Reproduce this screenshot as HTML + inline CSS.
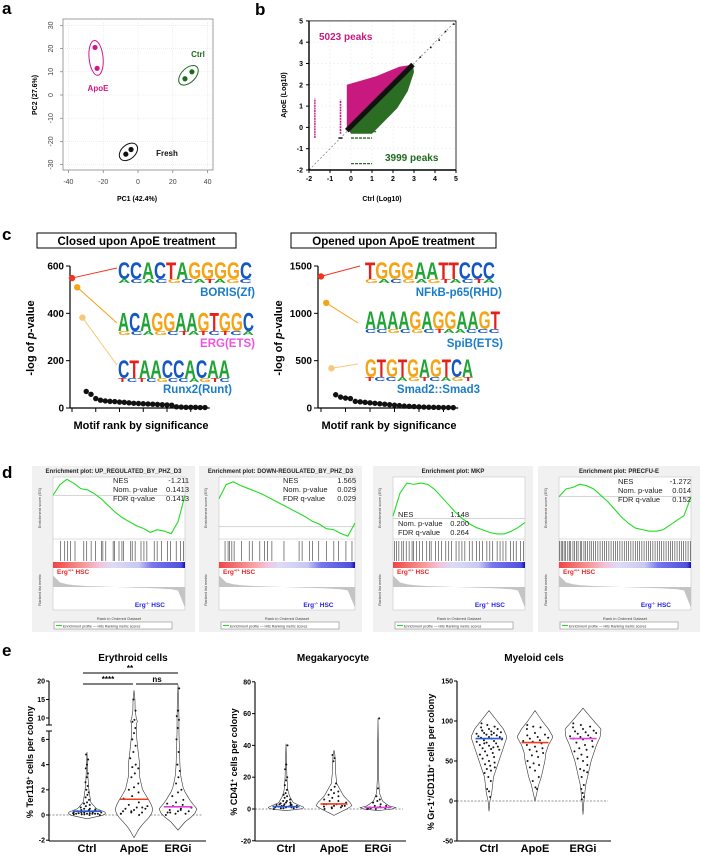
<!DOCTYPE html>
<html><head><meta charset="utf-8">
<style>
html,body{margin:0;padding:0;background:#fff;}
svg{display:block;font-family:"Liberation Sans",sans-serif;}
</style></head>
<body>
<svg id="fig" width="701" height="857" viewBox="0 0 701 857" xmlns="http://www.w3.org/2000/svg"></svg>
<script>
// ---------- DATA ----------
// panel a
const pcaGroups=['ApoE','Ctrl','Fresh'];
const pcaPC1=[[-24.7,-23.5],[27,31],[-7,-4]];
const pcaPC2=[[20.5,11.5],[7,10],[-25.5,-23.5]];
const pcaTicksX=[-40,-20,0,20,40];
const pcaTicksY=[-30,-20,-10,0,10,20,30];
// panel b
const peakCounts=[5023,3999];
const bTicks=[-2,-1,0,1,2,3,4,5];
const openedCloudX=[-0.2,0.5,1.2,2.3,2.95,2.95,-0.2];
const openedCloudY=[2.0,2.2,2.4,2.85,2.95,2.95,-0.1];
const closedCloudX=[0,1.0,1.5,2.2,2.7,3.0,2.95,-0.1];
const closedCloudY=[-0.3,-0.3,0.2,0.9,1.7,2.6,2.95,-0.15];
const sparseX=[3.3,3.8,4.2,4.5,4.9];
const sparseY=[3.3,3.75,4.1,4.5,4.85];
// panel c
const closedP=[549,510,382,70,58,40,33,30,28,27,25,24,22,20,19,18,17,16,15,14,13,12,5,4,3,3,3,2,2];
const openedP=[1390,1110,420,140,115,105,100,70,65,60,55,50,45,40,35,30,25,20,18,15,12,10,8,7,6,5,5,4];
const closedTicks=[0,200,400,600];
const openedTicks=[0,500,1000,1500];
const closedMotifs=['BORIS(Zf)','ERG(ETS)','Runx2(Runt)'];
const openedMotifs=['NFkB-p65(RHD)','SpiB(ETS)','Smad2::Smad3'];
// panel d
const gseaTitles=['Enrichment plot: UP_REGULATED_BY_PHZ_D3','Enrichment plot: DOWN-REGULATED_BY_PHZ_D3','Enrichment plot: MKP','Enrichment plot: PRECFU-E'];
const gseaNES=['-1.211','1.565','1.148','-1.272'];
const gseaP=['0.1413','0.029','0.200','0.014'];
const gseaQ=['0.1413','0.029','0.264','0.152'];
const esP1=[0,0.08,0.12,0.09,0.05,0.04,0.01,-0.03,-0.08,-0.13,-0.17,-0.20,-0.23,-0.25,-0.28,-0.26,-0.27,-0.29,-0.20,0.0];
const esP2=[0.30,0.45,0.48,0.44,0.41,0.38,0.35,0.31,0.27,0.23,0.19,0.15,0.11,0.06,0.03,-0.02,-0.03,-0.07,-0.10,0.04];
const esP3=[0.02,0.20,0.28,0.27,0.28,0.27,0.23,0.17,0.11,0.05,0.0,-0.04,-0.07,-0.09,-0.11,-0.12,-0.12,-0.10,-0.07,-0.03];
const esP4=[0,0.05,0.06,0.08,0.07,0.05,0.01,-0.03,-0.08,-0.13,-0.17,-0.20,-0.21,-0.22,-0.22,-0.21,-0.18,-0.15,-0.12,0.0];
const hitsP1=[500,800,1000,1200,1500,2100,2300,2600,2900,3300,3400,3600,4100,4200,4500,4700,4800,5300,5400,5600,6000,6200,6400,6900,7100,7400,7800,8000,8400,8700,8900];
const hitsP2=[400,600,700,850,1000,1500,2000,2200,2700,3000,3200,3500,4300,5300,5500,6000,6200,6600,7100,7600,7900,8400,8800];
const hitsP3=[100,250,400,600,700,900,1100,1300,1400,1600,1800,2000,2300,2500,2600,2900,3100,3300,3600,3800,4000,4300,4500,4700,4900,5200,5400,5700,5900,6100,6400,6600,6800,7100,7300,7500,7700,8000,8200,8400,8700,8900];
const hitsP4=[50,150,250,350,450,600,700,800,950,1050,1200,1300,1450,1550,1700,1800,1950,2100,2200,2350,2500,2650,2800,2950,3100,3250,3400,3550,3700,3850,4000,4150,4300,4450,4600,4750,4900,5050,5200,5350,5500,5650,5800,5950,6100,6250,6400,6550,6700,6850,7000,7150,7300,7450,7600,7750,7900,8050,8200,8350,8500,8650,8800,8950];
const rankMetric=[0.5,0.2,0.12,0.08,0.06,0.04,0.03,0.02,0.01,0,-0.01,-0.02,-0.03,-0.04,-0.05,-0.06,-0.08,-0.1,-0.15,-0.9];
// panel e
const eCategories=['Ctrl','ApoE','ERGi'];
const eryDots=[[0.05,0.05,0.1,0.1,0.1,0.1,0.15,0.15,0.2,0.2,0.2,0.25,0.25,0.3,0.3,0.3,0.35,0.4,0.4,0.45,0.5,0.5,0.6,0.7,0.8,0.9,1.0,1.2,1.4,1.6,1.8,2.0,2.3,2.6,3.0,3.3,3.7,4.0,4.4,4.8,0.0,0.0,0.05,0.1,0.15,0.2],
[0.1,0.2,0.2,0.3,0.4,0.5,0.5,0.6,0.7,0.8,1.0,1.3,1.5,1.8,2.0,2.2,2.5,3.0,3.3,3.7,3.8,4.0,4.5,5.0,5.5,6.0,6.5,7.0,9.0,9.5,12,15,0.0,0.1,0.3,0.6],
[0.0,0.1,0.1,0.2,0.3,0.3,0.4,0.5,0.6,0.7,0.8,0.9,1.0,1.2,1.5,1.8,2.0,2.5,3.0,3.5,4.0,5.0,6.0,7.0,9.5,10.5,12,18,0.2,0.4,0.6]];
const megDots=[[0,0.5,0.5,1,1,1,1.5,1.5,2,2,2,2.5,3,3,3.5,4,4,5,5,6,7,8,9,10,12,15,18,20,25,28,40,0.5,1,1.5,2,2.5,3],
[0,0.5,1,1.5,2,2,3,3,4,5,5,6,7,8,9,10,11,12,14,16,30,32,34,1,2,3],
[0,0,0.5,0.5,1,1,1,1.5,2,2,3,4,5,6,8,13,57,0.5,1]];
const myeDots=[[97,95,93,92,90,90,88,87,86,85,85,84,83,82,81,80,80,79,78,77,76,75,74,73,72,70,69,68,66,65,64,62,60,58,57,55,53,50,48,46,44,42,40,38,35,30,25,15,12,5,88,83,78,72,67],
[95,93,92,90,85,83,82,80,79,78,76,75,74,72,70,68,66,64,62,60,57,55,50,47,45,42,38,30,25,17,15],
[97,95,93,92,90,88,87,86,85,84,82,81,80,79,78,77,75,73,70,68,66,64,62,58,55,53,50,45,40,38,36,30,20,15,10,5,2]];
const eryVioVals=[[-0.3,0,0.2,0.5,1,2,3,5],[-1.8,-1,0,0.5,1,2,3,4,5,6,6.6,8.4,9,10,12,15,17.5],[-1.2,-0.5,0,0.5,1,2,3,4,6,6.6,8.4,10,13,19]];
const eryVioDens=[[0,0.9,1,0.5,0.2,0.1,0.05,0],[0,0.3,0.9,1,0.85,0.45,0.3,0.3,0.22,0.15,0.12,0.12,0.18,0.12,0.06,0.05,0],[0,0.4,0.85,1,0.7,0.3,0.15,0.1,0.06,0.05,0.05,0.05,0.04,0]];
const megVioVals=[[-1,0,1,2,4,8,12,20,30,41],[-4,0,2,4,8,12,16,24,30,34,37],[-1,0,1,2,5,10,20,40,57]];
const megVioDens=[[0,0.9,1,0.8,0.4,0.2,0.1,0.05,0.03,0],[0,0.7,1,0.9,0.55,0.35,0.15,0.08,0.07,0.05,0],[0,0.8,1,0.6,0.25,0.08,0.03,0.02,0]];
const myeVioVals=[[-13,0,10,20,30,40,50,60,70,80,90,100,113],[0,10,20,30,40,50,60,70,80,90,100,113],[-17,0,10,20,30,40,50,60,70,80,90,100,116]];
const myeVioDens=[[0,0.05,0.15,0.2,0.25,0.4,0.55,0.7,0.85,1,0.8,0.45,0],[0,0.1,0.2,0.35,0.45,0.55,0.6,0.75,1,0.75,0.4,0],[0,0.05,0.1,0.15,0.25,0.35,0.45,0.6,0.75,0.95,1,0.6,0]];
const eryMedians=[0.3,1.25,0.65];
const megMedians=[1.5,3.2,1.0];
const myeMedians=[78,73,78];
const eryTicks=[-2,0,2,4,6,10,15,20];
const megTicks=[-20,0,20,40,60,80];
const myeTicks=[-50,0,50,100,150];

// ---------- HELPERS ----------
const NS='http://www.w3.org/2000/svg';
const svg=document.getElementById('fig');
function mk(tag,attrs,parent){const e=document.createElementNS(NS,tag);for(const k in attrs)e.setAttribute(k,attrs[k]);(parent||svg).appendChild(e);return e;}
function txt(x,y,s,attrs,parent){const e=mk('text',Object.assign({x:x,y:y},attrs||{}),parent);e.textContent=s;return e;}
function grp(name){const g=mk('g',{});return g;}
const MAG='#c8197f', GRN='#1e6b1e';

[['a',2,14],['b',255,15],['c',2,240],['d',2,478],['e',2,656]].forEach(function(l){
  const t=txt(l[1],l[2],l[0],{'font-size':17,'font-weight':'bold'});
  
  
});

// ---------- PANEL A ----------
(function(){
  const g=grp('panel-a-pca');
  const L=63,R=213,T=19,B=170;
  const sx=function(v){return 138+v*1.74;}, sy=function(v){return 95-v*2.32;};
  mk('rect',{x:L,y:T,width:R-L,height:B-T,fill:'#fff',stroke:'#888','stroke-width':0.8},g);
  pcaTicksX.forEach(function(v){
    mk('line',{x1:sx(v),x2:sx(v),y1:T,y2:B,stroke:'#e4e4e4','stroke-dasharray':'1,1','stroke-width':0.6},g);
    mk('line',{x1:sx(v),x2:sx(v),y1:B,y2:B+3,stroke:'#666','stroke-width':0.6},g);
    const t=txt(sx(v),184,String(v),{'font-size':7,'text-anchor':'middle',fill:'#444'},g);
    
  });
  pcaTicksY.forEach(function(v){
    mk('line',{x1:L,x2:R,y1:sy(v),y2:sy(v),stroke:'#e4e4e4','stroke-dasharray':'1,1','stroke-width':0.6},g);
    mk('line',{x1:L-3,x2:L,y1:sy(v),y2:sy(v),stroke:'#666','stroke-width':0.6},g);
    const t=txt(0,0,String(v),{'font-size':7,'text-anchor':'middle',fill:'#444',transform:'translate(53,'+sy(v)+') rotate(-90)'},g);
    
  });
  const cols=['#d3168c',GRN,'#111'];
  pcaGroups.forEach(function(name,i){
    const xs=pcaPC1[i].map(sx), ys=pcaPC2[i].map(sy);
    const cx=(xs[0]+xs[1])/2, cy=(ys[0]+ys[1])/2;
    const dx=xs[1]-xs[0], dy=ys[1]-ys[0];
    const len=Math.sqrt(dx*dx+dy*dy), ang=Math.atan2(dy,dx)*180/Math.PI;
    const el=mk('ellipse',{cx:cx,cy:cy,rx:len/2+7,ry:7,fill:'none',stroke:cols[i],'stroke-width':1,transform:'rotate('+ang+' '+cx+' '+cy+')'},g);
    
    for(let j=0;j<2;j++){
      const c=mk('circle',{cx:xs[j],cy:ys[j],r:2.6,fill:cols[i]},g);
      
    }
  });
  let t=txt(98,91,'ApoE',{'font-size':8,'font-weight':'bold',fill:'#d3168c','text-anchor':'middle'},g);
  t=txt(198,57,'Ctrl',{'font-size':8,'font-weight':'bold',fill:GRN,'text-anchor':'middle'},g);
  t=txt(167,156,'Fresh',{'font-size':8,'font-weight':'bold',fill:'#111','text-anchor':'middle'},g);
  t=txt(137,201,'PC1 (42.4%)',{'font-size':7,'font-weight':'bold','text-anchor':'middle'},g);
  t=txt(0,0,'PC2 (27.6%)',{'font-size':7,'font-weight':'bold','text-anchor':'middle',transform:'translate(37,95) rotate(-90)'},g);
})();

// ---------- PANEL B ----------
(function(){
  const g=grp('panel-b-scatter');
  const sx=function(v){return 309+(v+2)*21;}, sy=function(v){return 170-(v+2)*21.3;};
  bTicks.forEach(function(v){
    mk('line',{x1:sx(v),x2:sx(v),y1:sy(5),y2:sy(-2),stroke:'#e6e6e6','stroke-width':0.5,'stroke-dasharray':'2,2'},g);
    mk('line',{x1:sx(-2),x2:sx(5),y1:sy(v),y2:sy(v),stroke:'#e6e6e6','stroke-width':0.5,'stroke-dasharray':'2,2'},g);
  });
  mk('line',{x1:sx(-2),y1:sy(-2),x2:sx(5),y2:sy(5),stroke:'#888','stroke-width':0.8,'stroke-dasharray':'2,2'},g);
  function poly(X,Y,fill,name){const p=mk('polygon',{points:X.map(function(x,i){return sx(x)+','+sy(Y[i]);}).join(' '),fill:fill},g);return p;}
  poly(openedCloudX,openedCloudY,MAG,'opened-peaks-cloud');
  poly(closedCloudX,closedCloudY,'#2b6d22','closed-peaks-cloud');
  const d=mk('line',{x1:sx(-0.2),y1:sy(-0.15),x2:sx(2.95),y2:sy(2.95),stroke:'#111','stroke-width':5},g);
  
  sparseX.forEach(function(x,i){const c=mk('circle',{cx:sx(x),cy:sy(sparseY[i]),r:0.9,fill:'#111'},g);});
  let s=mk('line',{x1:sx(-1.72),y1:sy(-0.5),x2:sx(-1.72),y2:sy(1.35),stroke:MAG,'stroke-width':1.4,'stroke-dasharray':'2,0.6'},g);
  
  s=mk('line',{x1:sx(-0.5),y1:sy(-0.3),x2:sx(-0.5),y2:sy(1.3),stroke:MAG,'stroke-width':1.6,'stroke-dasharray':'2,0.8'},g);
  
  [[-0.2,0.1,1.2],[-0.5,0.0,1.0],[-1.7,0.0,1.0]].forEach(function(r){
    const l=mk('line',{x1:sx(r[1]),y1:sy(r[0]),x2:sx(r[2]),y2:sy(r[0]),stroke:'#2b6d22','stroke-width':1.3,'stroke-dasharray':'3,1'},g);
    
  });
  mk('line',{x1:sx(-0.6),y1:sy(-0.5),x2:sx(-0.4),y2:sy(-0.5),stroke:'#111','stroke-width':1.4},g);
  mk('rect',{x:sx(-2),y:sy(5),width:sx(5)-sx(-2),height:sy(-2)-sy(5),fill:'none',stroke:'#222','stroke-width':0.9},g);
  mk('line',{x1:sx(-2),y1:sy(5),x2:sx(-2),y2:sy(-2),stroke:'#000','stroke-width':1.4},g);
  mk('line',{x1:sx(-2),y1:sy(-2),x2:sx(5),y2:sy(-2),stroke:'#000','stroke-width':1.4},g);
  bTicks.forEach(function(v){
    mk('line',{x1:sx(v),x2:sx(v),y1:sy(-2),y2:sy(-2)+3,stroke:'#000','stroke-width':1},g);
    let t=txt(sx(v),181,String(v),{'font-size':7,'font-weight':'bold','text-anchor':'middle'},g);
    mk('line',{x1:sx(-2)-3,x2:sx(-2),y1:sy(v),y2:sy(v),stroke:'#000','stroke-width':1},g);
    t=txt(303,sy(v)+2.5,String(v),{'font-size':7,'font-weight':'bold','text-anchor':'end'},g);
  });
  let t=txt(319,40,peakCounts[0]+' peaks',{'font-size':10,'font-weight':'bold',fill:MAG},g);
  t=txt(385,161,peakCounts[1]+' peaks',{'font-size':10,'font-weight':'bold',fill:GRN},g);
  t=txt(382,201,'Ctrl (Log10)',{'font-size':7,'font-weight':'bold','text-anchor':'middle'},g);
  t=txt(0,0,'ApoE (Log10)',{'font-size':7,'font-weight':'bold','text-anchor':'middle',transform:'translate(286,95) rotate(-90)'},g);
})();

// ---------- PANEL C ----------
const LETTER_COL={A:'#21a336',C:'#1457c2',G:'#f5a415',T:'#e5201a'};
function logo(g,x,base,w,h,seq,small,name){
  const lg=mk('g',{},g);
  const t=mk('text',{x:0,y:0,'font-size':30,'font-weight':'bold',textLength:w,lengthAdjust:'spacingAndGlyphs',transform:'translate('+x+','+(base-h*0.18)+') scale(1,'+(h*0.82/21.5)+')'},lg);
  for(let i=0;i<seq.length;i++){const ts=mk('tspan',{fill:LETTER_COL[seq[i]]},t);ts.textContent=seq[i];}
  if(small){
    const t2=mk('text',{x:x,y:base,'font-size':5,'font-weight':'bold',textLength:w,lengthAdjust:'spacingAndGlyphs'},lg);
    for(let i=0;i<small.length;i++){const ts=mk('tspan',{fill:LETTER_COL[small[i]]},t2);ts.textContent=small[i];}
  }
}
function motifChart(name,axisX,data,ticks,maxV,firstX,step,colors,boxX,boxW,title,logos,labels,labelCols,labelX,conn){
  const g=grp(name);
  const Y0=408, Y1=266;
  const sy=function(v){return Y0-v*((Y0-Y1)/maxV);};
  const b=mk('rect',{x:boxX,y:233,width:boxW,height:15,fill:'#fff',stroke:'#000','stroke-width':1},g);
  
  let t=txt(boxX+boxW/2,245,title,{'font-size':11.5,'font-weight':'bold','text-anchor':'middle'},g);
  mk('line',{x1:axisX,y1:Y1,x2:axisX,y2:Y0,stroke:'#000','stroke-width':1.2},g);
  const xEnd=firstX+(data.length)*step;
  mk('line',{x1:axisX,y1:Y0,x2:xEnd,y2:Y0,stroke:'#000','stroke-width':1.2},g);
  for(let r=0;r<data.length;r+=5){const xx=firstX+r*step;mk('line',{x1:xx,x2:xx,y1:Y0,y2:Y0+4,stroke:'#000','stroke-width':1},g);}
  ticks.forEach(function(v){
    mk('line',{x1:axisX-4,x2:axisX,y1:sy(v),y2:sy(v),stroke:'#000','stroke-width':1},g);
    const tt=txt(axisX-6,sy(v)+3.5,String(v),{'font-size':10,'font-weight':'bold','text-anchor':'end'},g);
  });
  t=txt(0,0,'-log of ',{'font-size':11,'font-weight':'bold','text-anchor':'middle',transform:'translate('+(axisX-36)+',338) rotate(-90)'},g);
  const it=mk('tspan',{'font-style':'italic'},t);it.textContent='p';
  const rest=mk('tspan',{},t);rest.textContent='-value';
  
  t=txt(axisX+71,429,'Motif rank by significance',{'font-size':11,'font-weight':'bold','text-anchor':'middle'},g);
  data.forEach(function(v,i){
    const cx=i<3?firstX+i*5.2:firstX+i*step, cy=sy(v);
    if(i<3){
      const l=mk('line',{x1:cx,y1:cy,x2:conn[i][0],y2:conn[i][1],stroke:colors[i],'stroke-width':1},g);
      
    }
    const c=mk('circle',{cx:cx,cy:cy,r:i<3?3.2:2.7,fill:i<3?colors[i]:'#111'},g);
    
  });
  logos.forEach(function(L,i){logo(g,L[0],L[1],L[2],L[3],L[4],L[5],'motif-logo-'+(i+1));});
  labels.forEach(function(s,i){
    const tt=txt(labelX[i],[296,347,393][i],s,{'font-size':11.5,'font-weight':'bold','text-anchor':'end',fill:labelCols[i]},g);
    
  });
}
motifChart('panel-c-closed',70,closedP,closedTicks,600,72,4.75,['#f0361e','#f5a415','#f6c87a'],37,199,'Closed upon ApoE treatment',
  [[118,283,134,21,'CCACTAGGGGC','ACACGCATAGC'],[118,335,136,23,'ACAGGAAGTGGC','GCAGCTATCTCA'],[118,382,112,22,'CTAACCACAA','TCTCGCCAGTC']],
  closedMotifs,['#1b7dc9','#ee55dd','#1b7dc9'],[255,255,232],[[117,268],[117,323],[117,365]]);
motifChart('panel-c-opened',318,openedP,openedTicks,1500,321,4.9,['#f0361e','#f5a415','#f6c87a'],291,205,'Opened upon ApoE treatment',
  [[365,283,130,21,'TGGGAATTCCC','GACGAGTACTA'],[365,333,135,22,'AAAAGAGGAAGT','CCGCGCTAACCC'],[365,381,108,22,'GTGTGAGTCA','TCCAGTCAGT']],
  openedMotifs,['#1b7dc9','#1b7dc9','#1b7dc9'],[502,503,480],[[360,266],[358,323],[358,364]]);

// ---------- PANEL D ----------
const gseaBoxes=[{x:32,w:163,px:53,pw:132},{x:199,w:163,px:219,pw:136},{x:373,w:160,px:393,pw:132},{x:538,w:162,px:559,pw:132}];
const gseaES=[esP1,esP2,esP3,esP4];
const gseaHits=[hitsP1,hitsP2,hitsP3,hitsP4];
const gseaRange=[[-0.33,0.13],[-0.13,0.52],[-0.16,0.32],[-0.27,0.12]];
const gseaNESpos=[[113,483,189],[283,483,356],[398,517,469],[618,484,691]];
const defs=mk('defs',{});
const grad=mk('linearGradient',{id:'heat',x1:0,x2:1,y1:0,y2:0},defs);
[['0','#f04545'],['0.25','#f7a0a0'],['0.35','#f4c2dc'],['0.45','#dcdcf6'],['0.65','#c8c8f2'],['0.75','#7777ee'],['0.97','#5050dd'],['1','#1010b0']].forEach(function(s){mk('stop',{offset:s[0],'stop-color':s[1]},grad);});
gseaBoxes.forEach(function(B,k){
  const g=grp('gsea-plot-'+(k+1));
  mk('rect',{x:B.x,y:466,width:B.w,height:166,fill:'#f1f1f1'},g);
  let t=txt(B.x+B.w/2,473,gseaTitles[k],{'font-size':6,'font-weight':'bold','text-anchor':'middle',fill:'#222'},g);
  const x0=B.px, w=B.pw, N=9000;
  const sx=function(r){return x0+r/N*w;};
  const r=gseaRange[k];
  const sy=function(v){return 539-(v-r[0])/(r[1]-r[0])*61;};
  mk('rect',{x:x0,y:477,width:w,height:133,fill:'#fff',stroke:'#bbb','stroke-width':0.5},g);
  mk('line',{x1:x0,x2:x0+w,y1:sy(0),y2:sy(0),stroke:'#aaa','stroke-width':0.5},g);
  mk('line',{x1:x0,x2:x0+w,y1:539,y2:539,stroke:'#bbb','stroke-width':0.5},g);
  const es=gseaES[k];
  const pts=es.map(function(v,i){return sx(i*N/(es.length-1))+','+sy(v);}).join(' ');
  const pl=mk('polyline',{points:pts,fill:'none',stroke:'#22dd22','stroke-width':1.1},g);
  
  gseaHits[k].forEach(function(h){
    const l=mk('line',{x1:sx(h),x2:sx(h),y1:541,y2:561,stroke:'#333','stroke-width':0.6},g);
    
  });
  const hb=mk('rect',{x:x0,y:562,width:w,height:6,fill:'url(#heat)'},g);
  
  const mz=function(v){return 587-v*23;};
  let ap='M'+x0+','+mz(0);
  rankMetric.forEach(function(v,i){ap+=' L'+sx(i*N/(rankMetric.length-1))+','+mz(v);});
  ap+=' L'+(x0+w)+','+mz(0)+' Z';
  const area=mk('path',{d:ap,fill:'#c4c4c4'},g);
  
  t=txt(x0+4,574,'Erg',{'font-size':6.5,'font-weight':'bold',fill:'#ee2222'},g);
  let sp=mk('tspan',{'font-size':4,dy:-2.5},t);sp.textContent='+/+';
  sp=mk('tspan',{dy:2.5},t);sp.textContent=' HSC';
  
  t=txt(x0+w*0.62,607,'Erg',{'font-size':6.5,'font-weight':'bold',fill:'#2222ee'},g);
  sp=mk('tspan',{'font-size':4,dy:-2.5},t);sp.textContent='-/-';
  sp=mk('tspan',{dy:2.5},t);sp.textContent=' HSC';
  
  t=txt(x0+w/2,620,'Rank in Ordered Dataset',{'font-size':4,'text-anchor':'middle',fill:'#444'},g);
  t=txt(0,0,'Enrichment score (ES)',{'font-size':4,'text-anchor':'middle',fill:'#444',transform:'translate('+(x0-12)+',508) rotate(-90)'},g);
  t=txt(0,0,'Ranked list metric',{'font-size':4,'text-anchor':'middle',fill:'#444',transform:'translate('+(x0-12)+',590) rotate(-90)'},g);
  
  const lb=mk('rect',{x:B.x+22,y:622,width:118,height:7,fill:'#fff',stroke:'#777','stroke-width':0.5},g);
  
  mk('line',{x1:B.x+24,x2:B.x+30,y1:625.5,y2:625.5,stroke:'#22dd22','stroke-width':1},g);
  t=txt(B.x+31,627.5,'Enrichment profile  — Hits       Ranking metric scores',{'font-size':3.6,fill:'#333'},g);
  const P=gseaNESpos[k];
  [['NES',gseaNES[k]],['Nom. p-value',gseaP[k]],['FDR q-value',gseaQ[k]]].forEach(function(row,i){
    let a=txt(P[0],P[1]+i*9,row[0],{'font-size':7.5,fill:'#222'},g);
    a=txt(P[2],P[1]+i*9,row[1],{'font-size':7.5,fill:'#222','text-anchor':'end'},g);
  });
});

// ---------- PANEL E ----------
function interp(vals,dens,v){
  if(v<=vals[0]||v>=vals[vals.length-1])return 0;
  for(let i=1;i<vals.length;i++){if(v<=vals[i]){const f=(v-vals[i-1])/(vals[i]-vals[i-1]);return dens[i-1]+f*(dens[i]-dens[i-1]);}}
  return 0;
}
function violinPanel(name,cfg,dots,vVals,vDens,medians,ticks){
  const g=grp(name);
  const sy=cfg.sy;
  let t=txt(cfg.titleX,661,cfg.title,{'font-size':10,'font-weight':'bold','text-anchor':'middle'},g);
  mk('line',{x1:cfg.ax,x2:cfg.cx[2]+25,y1:sy(0),y2:sy(0),stroke:'#aaa','stroke-width':1.2,'stroke-dasharray':'2,1.5'},g);
  const medCols=['#2a5bd7','#f03c1e','#e040e0'];
  eCategories.forEach(function(cat,k){
    const cx=cfg.cx[k], vals=vVals[k], dens=vDens[k];
    let right='',left=[];
    const n=60, lo=vals[0], hi=vals[vals.length-1];
    for(let i=0;i<=n;i++){const v=lo+(hi-lo)*i/n;const hw=interp(vals,dens,v)*cfg.hw;right+=(i?' L':'M')+(cx+hw)+','+sy(v);left.push((cx-hw)+','+sy(v));}
    const d=right+' L'+left.reverse().join(' L')+' Z';
    const p=mk('path',{d:d,fill:'#fff',stroke:'#333','stroke-width':0.6},g);
    
    dots[k].forEach(function(v,i){
      const hw=Math.max(interp(vals,dens,v)*cfg.hw,2);
      const off=(((i*37)%11)-5)/5*hw*0.75;
      const c=mk('circle',{cx:cx+off,cy:sy(v),r:1,fill:'#111'},g);
      
    });
    const ml=mk('line',{x1:cx-cfg.hw*0.75,x2:cx+cfg.hw*0.75,y1:sy(medians[k]),y2:sy(medians[k]),stroke:medCols[k],'stroke-width':1.6},g);
    
    const lt=txt(cx,852,cat,{'font-size':11,'font-weight':'bold','text-anchor':'middle'},g);
    
  });
  cfg.axisSegs.forEach(function(s){mk('line',{x1:cfg.ax,x2:cfg.ax,y1:s[0],y2:s[1],stroke:'#000','stroke-width':1.1},g);});
  mk('line',{x1:cfg.ax,x2:cfg.cx[2]+28,y1:841,y2:841,stroke:'#000','stroke-width':1.1},g);
  ticks.forEach(function(v){
    mk('line',{x1:cfg.ax-3,x2:cfg.ax,y1:sy(v),y2:sy(v),stroke:'#000','stroke-width':1},g);
    const tt=txt(cfg.ax-4,sy(v)+2.5,String(v),{'font-size':7,'font-weight':'bold','text-anchor':'end'},g);
    
  });
  t=txt(0,0,cfg.yTitle[0],{'font-size':9,'font-weight':'bold','text-anchor':'middle',transform:'translate('+cfg.yTitleX+',762) rotate(-90)'},g);
  cfg.yTitle.slice(1).forEach(function(s,i){const sp=mk('tspan',i%2===0?{'font-size':5.5,dy:-3}:{dy:3},t);sp.textContent=s;});
  
  return g;
}
const eryY=function(v){if(v<=6.6)return 815-v*12.6;if(v>=8.4)return 718-(v-10)*3.7;return 728;};
const gE=violinPanel('panel-e-erythroid',{title:'Erythroid cells',titleX:133,ax:49,cx:[87,134,178],hw:19,sy:eryY,axisSegs:[[681,725],[731,841]],yTitleX:33,
  yTitle:['% Ter119','+',' cells per colony']},eryDots,eryVioVals,eryVioDens,eryMedians,eryTicks);
[[83,178,673,'**',130],[83,133,684,'****',108],[136,178,684,'ns',157]].forEach(function(s){
  const l=mk('line',{x1:s[0],x2:s[1],y1:s[2],y2:s[2],stroke:'#000','stroke-width':1},gE);
  
  const t=txt(s[4],s[2]-2,s[3],{'font-size':8,'font-weight':'bold','text-anchor':'middle'},gE);
  
});
mk('line',{x1:46,x2:52,y1:725,y2:725,stroke:'#000','stroke-width':1},gE);
mk('line',{x1:46,x2:52,y1:731,y2:731,stroke:'#000','stroke-width':1},gE);
violinPanel('panel-e-megakaryocyte',{title:'Megakaryocyte',titleX:333,ax:255,cx:[286,334,378],hw:18,sy:function(v){return 809-v*1.59;},axisSegs:[[682,841]],yTitleX:237,
  yTitle:['% CD41','+',' cells per colony']},megDots,megVioVals,megVioDens,megMedians,megTicks);
violinPanel('panel-e-myeloid',{title:'Myeloid cels',titleX:534,ax:457,cx:[489,535,583],hw:18,sy:function(v){return 801-v*0.8;},axisSegs:[[681,841]],yTitleX:434,
  yTitle:['% Gr-1','+','/CD11b','+',' cells per colony']},myeDots,myeVioVals,myeVioDens,myeMedians,myeTicks);
</script>
</body></html>
